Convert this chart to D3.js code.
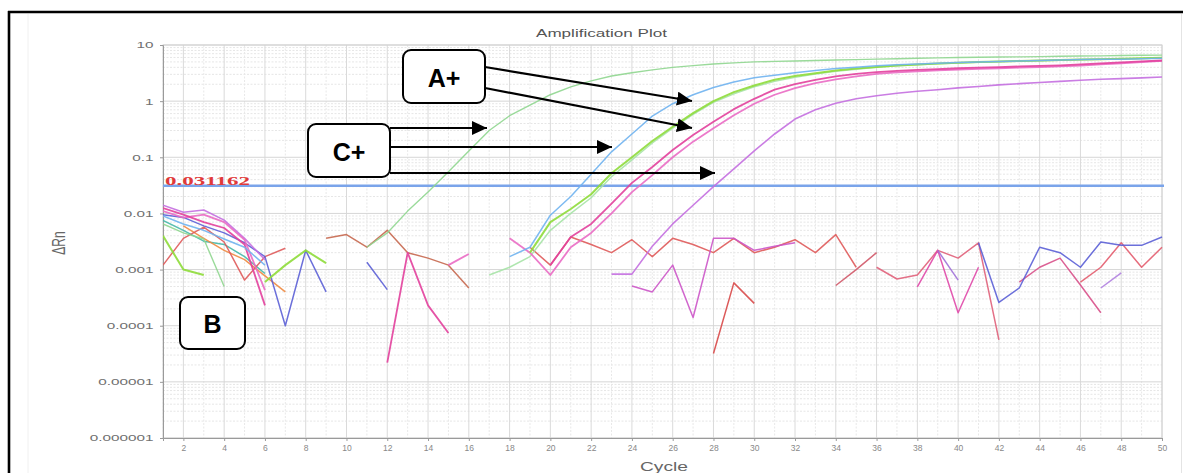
<!DOCTYPE html>
<html><head><meta charset="utf-8">
<script src="https://cdn.jsdelivr.net/npm/d3@7"></script>
<style>html,body{margin:0;padding:0;background:#fff;} svg{display:block;}</style>
</head><body>
<svg id="chart" width="1183" height="473"></svg>
<script>
const _ = null;
const cycles = [1,2,3,4,5,6,7,8,9,10,11,12,13,14,15,16,17,18,19,20,21,22,23,24,25,26,27,28,29,30,31,32,33,34,35,36,37,38,39,40,41,42,43,44,45,46,47,48,49,50];
const xTicks = [2,4,6,8,10,12,14,16,18,20,22,24,26,28,30,32,34,36,38,40,42,44,46,48,50];
const yTicks = [1e-6,1e-5,1e-4,1e-3,1e-2,1e-1,1,10];
const yTickLabels = ["0.000001","0.00001","0.0001","0.001","0.01","0.1","1","10"];
const threshold = 0.031162;
const thresholdLabel = "0.031162";

// amplification curves (value per cycle, null = not plotted)
const greenEarly = [0.0065,0.0045,0.0035,0.0005,_,_,_,_,_,_,
  0.0025,0.0045,0.011,0.024,0.055,0.13,0.3,0.55,0.85,1.3,
  1.8,2.3,2.8,3.2,3.6,4.0,4.3,4.6,4.8,5.0,
  5.1,5.2,5.3,5.4,5.5,5.6,5.7,5.8,5.9,6.0,
  6.05,6.1,6.15,6.2,6.3,6.35,6.4,6.5,6.55,6.6];
const blueCurve = [0.009,0.0065,0.005,0.0035,0.0025,0.0012,_,_,_,_,
  _,_,_,_,_,_,_,0.0017,0.0025,0.0093,
  0.02,0.05,0.125,0.26,0.54,0.9,1.3,1.75,2.2,2.6,
  2.9,3.2,3.5,3.8,4.0,4.25,4.45,4.6,4.75,4.9,
  5.0,5.1,5.2,5.3,5.4,5.5,5.55,5.6,5.7,5.8];
const greenMain = [0.004,0.001,0.0008,_,_,0.0006,0.0012,0.0022,0.0013,_,
  _,_,_,_,_,_,_,_,0.002,0.007,
  0.012,0.022,0.052,0.1,0.195,0.35,0.61,1.0,1.45,1.9,
  2.4,2.8,3.15,3.5,3.8,4.05,4.3,4.5,4.7,4.85,
  5.0,5.1,5.2,5.3,5.4,5.5,5.6,5.7,5.8,5.9];
const greenLight = [_,_,_,_,_,_,_,_,_,_,
  _,_,_,_,_,_,0.0008,0.0011,0.0017,0.005,
  0.01,0.019,0.045,0.09,0.18,0.33,0.58,0.95,1.35,1.8,
  2.25,2.65,3.05,3.4,3.7,4.0,4.25,4.45,4.65,4.8,
  4.95,5.05,5.15,5.25,5.35,5.45,5.55,5.65,5.75,5.85];
const pinkA = [0.0125,0.0095,0.007,0.0055,0.0028,0.00023,_,_,_,_,
  _,0.000022,0.002,0.00023,0.000074,_,_,_,_,0.0012,
  0.0038,0.0065,0.015,0.035,0.067,0.135,0.25,0.43,0.72,1.1,
  1.6,2.0,2.4,2.75,3.05,3.3,3.45,3.6,3.72,3.85,
  3.95,4.05,4.15,4.25,4.35,4.5,4.7,4.9,5.1,5.3];
const pinkB = [0.011,0.0084,0.0095,0.007,0.0034,0.00043,_,_,_,_,
  _,_,_,_,0.0012,0.0019,_,0.0036,0.002,0.0008,
  0.0025,0.0045,0.01,0.024,0.048,0.1,0.19,0.33,0.56,0.9,
  1.3,1.7,2.1,2.45,2.75,3.05,3.25,3.4,3.55,3.65,
  3.75,3.85,3.95,4.05,4.15,4.3,4.5,4.7,4.95,5.2];
const violetCurve = [0.014,0.0105,0.0115,0.0076,0.0036,0.0015,_,_,_,_,
  _,_,_,_,_,_,_,_,_,_,
  _,_,0.00083,0.00083,0.0026,0.0065,0.014,0.03,0.062,0.13,
  0.26,0.48,0.7,0.92,1.1,1.25,1.38,1.5,1.6,1.72,
  1.82,1.95,2.05,2.15,2.25,2.35,2.45,2.52,2.6,2.7];

// baseline noise traces
const blueViolet = [0.0095,0.0085,0.006,0.0045,0.003,0.0017,0.0001,0.0022,0.0004,_,
  0.00135,0.00044,_,_,_,_,_,_,_,_,
  _,_,_,_,_,_,_,_,_,_,
  _,_,_,_,_,_,_,_,_,_,
  0.003,0.00026,0.00047,0.0025,0.002,0.0011,0.0031,0.0027,0.0027,0.0038];
const redA = [0.0012,0.0036,0.0057,0.0031,0.00065,0.0017,0.0024,_,_,_,
  _,_,_,_,_,_,_,_,0.0025,0.0012,
  0.0038,0.0028,0.002,0.0034,0.0017,0.0036,0.0028,0.002,0.0036,0.002,
  0.0025,0.0034,0.002,0.0042,0.0011,_,_,_,_,_,
  _,_,_,_,_,_,_,_,_,_];
const redBrown = [_,_,_,_,_,_,_,_,0.0036,0.0042,
  0.0025,0.005,0.002,0.0016,0.0012,0.00047,_,_,_,_,
  _,_,_,_,_,_,_,_,_,_,
  _,_,_,_,_,_,_,_,_,_,
  _,_,_,_,_,_,_,_,_,_];
const orange = [_,0.006,0.0036,0.0022,0.0015,0.00077,0.0004,_,_,_,
  _,_,_,_,_,_,_,_,_,_,
  _,_,_,_,_,_,_,_,_,_,
  _,_,_,_,_,_,_,_,_,_,
  _,_,_,_,_,_,_,_,_,_];
const teal = [0.0075,0.005,0.0032,0.0028,0.0017,0.00085,_,_,_,_,
  _,_,_,_,_,_,_,_,_,_,
  _,_,_,_,_,_,_,_,_,_,
  _,_,_,_,_,_,_,_,_,_,
  _,_,_,_,_,_,_,_,_,_];
const pinkMid = [_,_,_,_,_,_,_,_,_,_,
  _,_,_,_,_,_,_,_,_,_,
  _,_,_,0.00051,0.0004,0.0012,0.00014,0.0036,0.0036,0.0022,
  0.0026,0.003,_,_,_,_,_,_,_,_,
  _,_,_,_,_,_,_,_,_,_];
const redDip = [_,_,_,_,_,_,_,_,_,_,
  _,_,_,_,_,_,_,_,_,_,
  _,_,_,_,_,_,_,0.000032,0.00058,0.00025,
  _,_,_,_,_,_,_,_,_,_,
  _,_,_,_,_,_,_,_,_,_];
const crossLine = [_,_,_,_,_,_,_,_,_,_,
  _,_,_,_,_,_,_,_,_,_,
  _,_,_,_,_,_,_,_,_,_,
  _,_,_,0.00052,0.001,0.002,_,_,_,_,
  _,_,_,_,_,_,_,_,_,_];
const roseLate = [_,_,_,_,_,_,_,_,_,_,
  _,_,_,_,_,_,_,_,_,_,
  _,_,_,_,_,_,_,_,_,_,
  _,_,_,_,_,0.0011,0.00068,0.0008,0.0022,0.0016,
  0.003,0.000056,_,_,_,_,_,_,_,_];
const pinkLate = [_,_,_,_,_,_,_,_,_,_,
  _,_,_,_,_,_,_,_,_,_,
  _,_,_,_,_,_,_,_,_,_,
  _,_,_,_,_,_,_,0.00049,0.0022,0.00017,
  0.0011,_,_,_,_,_,_,_,_,_];
const violetShortA = [_,_,_,_,_,_,_,_,_,_,
  _,_,_,_,_,_,_,_,_,_,
  _,_,_,_,_,_,_,_,_,_,
  _,_,_,_,_,_,_,_,0.0022,0.00065,
  _,_,_,_,_,_,_,_,_,_];
const magentaLate = [_,_,_,_,_,_,_,_,_,_,
  _,_,_,_,_,_,_,_,_,_,
  _,_,_,_,_,_,_,_,_,_,
  _,_,_,_,_,_,_,_,_,_,
  _,_,0.0006,0.0011,0.0016,0.00053,0.00017,_,_,_];
const redLate = [_,_,_,_,_,_,_,_,_,_,
  _,_,_,_,_,_,_,_,_,_,
  _,_,_,_,_,_,_,_,_,_,
  _,_,_,_,_,_,_,_,_,_,
  _,_,_,_,_,0.0006,0.0011,0.003,0.0011,0.0025];
const violetShortB = [_,_,_,_,_,_,_,_,_,_,
  _,_,_,_,_,_,_,_,_,_,
  _,_,_,_,_,_,_,_,_,_,
  _,_,_,_,_,_,_,_,_,_,
  _,_,_,_,_,_,0.00047,0.00087,_,_];

const seriesList = [
  {v: teal, c: "#45b8a8", w: 1.5}, {v: orange, c: "#f08a40", w: 1.5}, {v: redBrown, c: "#c7684f", w: 1.5},
  {v: redA, c: "#df5a5a", w: 1.5}, {v: redDip, c: "#d84848", w: 1.5}, {v: crossLine, c: "#d05868", w: 1.5},
  {v: roseLate, c: "#e0607a", w: 1.5}, {v: pinkLate, c: "#e048a8", w: 1.5}, {v: violetShortA, c: "#a070d8", w: 1.5},
  {v: magentaLate, c: "#d8508a", w: 1.5}, {v: redLate, c: "#e35c6e", w: 1.5}, {v: violetShortB, c: "#b080e0", w: 1.5},
  {v: pinkMid, c: "#cc55c8", w: 1.5}, {v: blueViolet, c: "#5b5fd6", w: 1.5},
  {v: greenEarly, c: "#8fd68f", w: 1.4}, {v: greenLight, c: "#a6e3a6", w: 1.5}, {v: violetCurve, c: "#c46fe0", w: 1.6},
  {v: pinkB, c: "#ea6cc4", w: 1.8}, {v: pinkA, c: "#e2409c", w: 1.8}, {v: greenMain, c: "#8edb3a", w: 2.0},
  {v: blueCurve, c: "#6fb2ef", w: 1.5}
];

const svg = d3.select("#chart");
const L = 163, R = 1162, T = 45, B = 438;
const x = d3.scaleLinear().domain([1, 50]).range([L, R]);
const y = d3.scaleLog().domain([1e-6, 10]).range([B, T]);

svg.append("rect").attr("width", 1183).attr("height", 473).attr("fill", "#fff");
// faint inner image edges
svg.append("line").attr("x1", 28).attr("x2", 28).attr("y1", 14).attr("y2", 473).attr("stroke", "#f0f0f0");
svg.append("line").attr("x1", 1181.5).attr("x2", 1181.5).attr("y1", 14).attr("y2", 473).attr("stroke", "#e4e4e4");
// outer frame
svg.append("line").attr("x1", 8).attr("x2", 1183).attr("y1", 12).attr("y2", 12).attr("stroke", "#000").attr("stroke-width", 2.6);
svg.append("line").attr("x1", 9).attr("x2", 9).attr("y1", 11).attr("y2", 473).attr("stroke", "#000").attr("stroke-width", 2.6);

// grid
const grid = svg.append("g");
const minorY = [];
yTicks.slice(0, -1).forEach(d => { for (let k = 2; k <= 9; k++) minorY.push(d * k); });
grid.selectAll(".my").data(minorY).join("line")
  .attr("x1", L).attr("x2", R).attr("y1", d => y(d)).attr("y2", d => y(d))
  .attr("stroke", "#e6e6e6").attr("stroke-dasharray", "2,1.5");
const minorX = cycles.filter(c => c % 2 === 1);
grid.selectAll(".mx").data(minorX).join("line")
  .attr("x1", d => x(d)).attr("x2", d => x(d)).attr("y1", T).attr("y2", B)
  .attr("stroke", "#e8e8e8").attr("stroke-dasharray", "2,1.5");
grid.selectAll(".gx").data(xTicks).join("line")
  .attr("x1", d => x(d)).attr("x2", d => x(d)).attr("y1", T).attr("y2", B)
  .attr("stroke", "#dadada");
grid.selectAll(".gy").data(yTicks).join("line")
  .attr("x1", L).attr("x2", R).attr("y1", d => y(d)).attr("y2", d => y(d))
  .attr("stroke", "#d6d6d6");
svg.append("rect").attr("x", L).attr("y", T).attr("width", R - L).attr("height", B - T)
  .attr("fill", "none").attr("stroke", "#d2d2d2");

// axes
const yAxis = d3.axisLeft(y).tickValues(yTicks).tickFormat((d, i) => yTickLabels[i]).tickSize(3).tickPadding(0);
const gy = svg.append("g").attr("transform", `translate(${L},0)`).call(yAxis);
gy.select(".domain").attr("stroke", "#9a9a9a");
gy.selectAll(".tick line").attr("stroke", "#9a9a9a");
gy.selectAll(".tick text").attr("x", -5.6).attr("transform", "scale(1.7,1)")
  .attr("fill", "#707070").attr("font-size", 9).attr("font-family", "Liberation Sans, Arial, sans-serif");

const xAxis = d3.axisBottom(x).tickValues(xTicks).tickSize(3).tickPadding(0);
const gx = svg.append("g").attr("transform", `translate(0,${B})`).call(xAxis);
gx.select(".domain").attr("stroke", "#9a9a9a");
gx.selectAll(".tick line").attr("stroke", "#9a9a9a");
gx.selectAll(".tick text").attr("y", 7).attr("fill", "#888").attr("font-size", 8.5)
  .attr("font-family", "Liberation Sans, Arial, sans-serif");

// threshold
svg.append("line").attr("x1", L).attr("x2", R + 2).attr("y1", y(threshold)).attr("y2", y(threshold))
  .attr("stroke", "#7aa4ea").attr("stroke-width", 2.6);
svg.append("text").attr("x", L + 2).attr("y", y(threshold) - 0.5).text(thresholdLabel)
  .attr("font-family", "Liberation Serif, Times New Roman, serif").attr("font-weight", "bold")
  .attr("font-size", 13).attr("fill", "#e03a3a").attr("textLength", 85).attr("lengthAdjust", "spacingAndGlyphs");

// series
svg.append("clipPath").attr("id", "plotclip").append("rect")
  .attr("x", L).attr("y", T - 2).attr("width", R - L + 2).attr("height", B - T + 2);
const line = d3.line().defined(d => d != null).x((d, i) => x(cycles[i])).y(d => y(d));
const gl = svg.append("g").attr("clip-path", "url(#plotclip)");
seriesList.forEach(s => {
  gl.append("path").attr("d", line(s.v)).attr("fill", "none").attr("stroke", s.c)
    .attr("stroke-width", s.w).attr("stroke-linejoin", "round").attr("stroke-opacity", 0.9);
});

// titles
svg.append("text").attr("x", 536).attr("y", 37).text("Amplification Plot")
  .attr("font-family", "Liberation Sans, Arial, sans-serif").attr("font-size", 11).attr("fill", "#555")
  .attr("textLength", 131).attr("lengthAdjust", "spacingAndGlyphs");
svg.append("text").attr("x", 640).attr("y", 471).text("Cycle")
  .attr("font-family", "Liberation Sans, Arial, sans-serif").attr("font-size", 13).attr("fill", "#666")
  .attr("textLength", 48).attr("lengthAdjust", "spacingAndGlyphs");
svg.append("text").attr("transform", "translate(65,243) scale(1.5,1) rotate(-90)")
  .attr("text-anchor", "middle").text("ΔRn")
  .attr("font-family", "Liberation Sans, Arial, sans-serif").attr("font-size", 12).attr("fill", "#666");

// annotations
const defs = svg.append("defs");
defs.append("marker").attr("id", "ah").attr("markerUnits", "userSpaceOnUse")
  .attr("markerWidth", 15).attr("markerHeight", 14).attr("refX", 15).attr("refY", 7)
  .attr("orient", "auto").append("path").attr("d", "M0,0 L15,7 L0,14 Z").attr("fill", "#000");
const arrows = [[485, 67, 692, 101], [485, 88, 692, 128], [390, 128, 487, 128], [390, 147, 612, 147], [390, 173, 715, 173]];
svg.selectAll(".arr").data(arrows).join("line")
  .attr("x1", d => d[0]).attr("y1", d => d[1]).attr("x2", d => d[2]).attr("y2", d => d[3])
  .attr("stroke", "#000").attr("stroke-width", 2.2).attr("marker-end", "url(#ah)");
const boxes = [{t: "A+", x: 403, y: 50, w: 82, h: 53}, {t: "C+", x: 308, y: 124, w: 82, h: 53}, {t: "B", x: 180, y: 297, w: 65, h: 52}];
const bg = svg.selectAll(".box").data(boxes).join("g");
bg.append("rect").attr("x", d => d.x).attr("y", d => d.y).attr("width", d => d.w).attr("height", d => d.h)
  .attr("rx", 8).attr("fill", "#fff").attr("stroke", "#000").attr("stroke-width", 2);
bg.append("text").attr("x", d => d.x + d.w / 2).attr("y", d => d.y + d.h / 2 + 10)
  .attr("text-anchor", "middle").text(d => d.t)
  .attr("font-family", "Liberation Sans, Arial, sans-serif").attr("font-weight", "bold").attr("font-size", 25).attr("fill", "#000");
</script>
</body></html>
